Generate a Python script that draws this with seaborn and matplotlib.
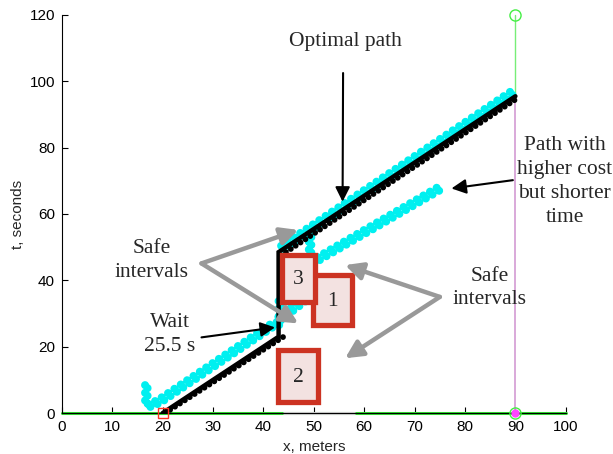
import matplotlib
matplotlib.use("Agg")
import matplotlib.pyplot as plt
import matplotlib.transforms as mtransforms
from matplotlib.patches import Rectangle
import pandas as pd
import seaborn as sns

# Optimal trajectory in (x, t): drive, wait 25.5 s, drive on to the goal
path_x = [20, 43, 43, 90]
path_t = [0, 23, 48.5, 95.5]

# States expanded along the optimal path (black dots)
black_a_x = [20.5, 44.5]
black_a_t = [0, 23.5]
black_b_x = [43.5, 90]
black_b_t = [47.5, 94.5]

# Safe-interval states (cyan dots)
cyan_a_x = [17, 17, 19.5, 42.5, 43.5, 43.5]
cyan_a_t = [7.5, 1.5, 3, 26.5, 26.5, 34]
cyan_b_x = [43.5, 49.5]
cyan_b_t = [28, 35]
cyan_c_x = [44, 90]
cyan_c_t = [49.5, 96.5]
cyan_d_x = [49.5, 49.5, 50.5, 76]
cyan_d_t = [53, 47.5, 45.5, 68]

# Obstacles: (label, x0, x1, t0, t1)
obs_labels = ["1", "2", "3"]
obs_x0 = [49.8, 42.9, 43.7]
obs_x1 = [57.5, 50.8, 50.2]
obs_t0 = [26.5, 3.3, 33.5]
obs_t1 = [41.6, 19.0, 47.7]

# Goal marker
goal_x = 90
goal_t_top = 120
xticks = [0, 10, 20, 30, 40, 50, 60, 70, 80, 90, 100]
yticks = [0, 20, 40, 60, 80, 100, 120]

sns.set_style("ticks")
plt.rcParams["font.family"] = ["Liberation Sans", "DejaVu Sans"]

fig = plt.figure(figsize=(6.13, 4.54), dpi=100)
ax = fig.add_axes([0.101, 0.0903, 0.822, 0.8767])

SERIF = ["Liberation Serif", "DejaVu Serif"]
CYAN = "#00f0f0"
dotted = (0, (0.001, 0.95))
TXT = dict(fontsize=15.5, family=SERIF, linespacing=1.35, ha="center",
           va="center")

# ground line along t = 0
sns.lineplot(x=[0, 100], y=[0, 0], ax=ax, color="#33dd33", lw=2.2,
             sort=False, estimator=None, zorder=2, clip_on=False)
sns.lineplot(x=[44, 58], y=[0, 0], ax=ax, color="#d0d0d0", lw=2.2,
             sort=False, estimator=None, zorder=2, clip_on=False)

# goal time line
sns.lineplot(x=[goal_x, goal_x], y=[0, 95], ax=ax, color="#d7a3d7", lw=1.3,
             sort=False, estimator=None, zorder=1)
sns.lineplot(x=[goal_x, goal_x], y=[95, goal_t_top], ax=ax, color="#77ee77",
             lw=1.0, sort=False, estimator=None, zorder=1, clip_on=False)

# cyan safe-interval states, drawn as two staggered rows of dots
shift = mtransforms.offset_copy(ax.transData, fig=fig, x=-2.5, y=3.0,
                                units="dots")
for cx, ct in [(cyan_a_x, cyan_a_t), (cyan_b_x, cyan_b_t),
               (cyan_c_x, cyan_c_t), (cyan_d_x, cyan_d_t)]:
    for tr in (ax.transData, shift):
        sns.lineplot(x=cx, y=ct, ax=ax, color=CYAN, lw=5.8, sort=False,
                     estimator=None, linestyle=dotted,
                     dash_capstyle="round", transform=tr, zorder=3)

# black expanded states
for bx, bt in [(black_a_x, black_a_t), (black_b_x, black_b_t)]:
    sns.lineplot(x=bx, y=bt, ax=ax, color="black", lw=4.2, sort=False,
                 estimator=None, linestyle=(0, (0.001, 1.0)),
                 dash_capstyle="round", zorder=4)

# optimal path
sns.lineplot(x=path_x, y=path_t, ax=ax, color="black", lw=3.2, sort=False,
             estimator=None, zorder=5, solid_joinstyle="miter")

# start and goal markers
ax.plot([20], [0], marker="s", ms=7, mfc="none", mec="#ff3322", mew=1.0,
        clip_on=False, zorder=6)
ax.plot([goal_x], [0], marker="o", ms=5, color="#ff44ff", clip_on=False,
        zorder=6)
ax.plot([goal_x], [0], marker="o", ms=8, mfc="none", mec="#44ee44", mew=1.0,
        clip_on=False, zorder=7)
ax.plot([goal_x], [goal_t_top], marker="o", ms=8, mfc="none", mec="#44ee44",
        mew=1.0, clip_on=False, zorder=7)

# obstacles
for lab, x0, x1, t0, t1 in zip(obs_labels, obs_x0, obs_x1, obs_t0, obs_t1):
    ax.add_patch(Rectangle((x0, t0), x1 - x0, t1 - t0, facecolor="#f3e2e1",
                           edgecolor="#cc3322", lw=3.8, zorder=6,
                           joinstyle="miter"))
    ax.text((x0 + x1) / 2, (t0 + t1) / 2 - 0.5, lab, zorder=7, **TXT)

# annotations
ax.text(56.2, 112, "Optimal path", **TXT)
ax.text(99.8, 69.8, "Path with\nhigher cost\nbut shorter\ntime",
        bbox=dict(facecolor="white", edgecolor="none", pad=1), zorder=8,
        **TXT)
ax.text(17.8, 46, "Safe\nintervals", **TXT)
ax.text(84.9, 37.7, "Safe\nintervals", **TXT)
ax.text(21.4, 23.8, "Wait\n25.5 s", **TXT)

black_arrow = dict(arrowstyle="-|>", color="black", lw=1.5,
                   mutation_scale=22, shrinkA=0, shrinkB=0)
gray_arrow = dict(arrowstyle="-|>", color="#999999", lw=3.2,
                  mutation_scale=26, shrinkA=0, shrinkB=0)

ax.annotate("", xy=(55.7, 63.7), xytext=(55.8, 102.5), arrowprops=black_arrow,
            zorder=9)
ax.annotate("", xy=(77.3, 67.7), xytext=(89.5, 70.2), arrowprops=black_arrow,
            zorder=9)
ax.annotate("", xy=(42.3, 25.8), xytext=(27.7, 22.8), arrowprops=black_arrow,
            zorder=9)

for tip in [(46.9, 55.2), (46.9, 27.0)]:
    ax.annotate("", xy=tip, xytext=(27.7, 45.1), arrowprops=gray_arrow,
                zorder=9)
for tip in [(56.2, 44.6), (56.2, 16.5)]:
    ax.annotate("", xy=tip, xytext=(75.0, 35.0), arrowprops=gray_arrow,
                zorder=9)

# axes
ax.set_xlim(0, 100)
ax.set_ylim(0, 120)
ax.set_xticks(xticks)
ax.set_yticks(yticks)
ax.tick_params(direction="in", length=4, width=0.8, labelsize=11, pad=5,
               colors="black")
ax.set_xlabel("x, meters", fontsize=11, labelpad=4)
ax.set_ylabel("t, seconds", fontsize=11, labelpad=3)
for s in ("top", "right"):
    ax.spines[s].set_visible(False)
for s in ("left", "bottom"):
    ax.spines[s].set_color("black")
    ax.spines[s].set_linewidth(0.8)

fig.savefig("out.png", dpi=100)
